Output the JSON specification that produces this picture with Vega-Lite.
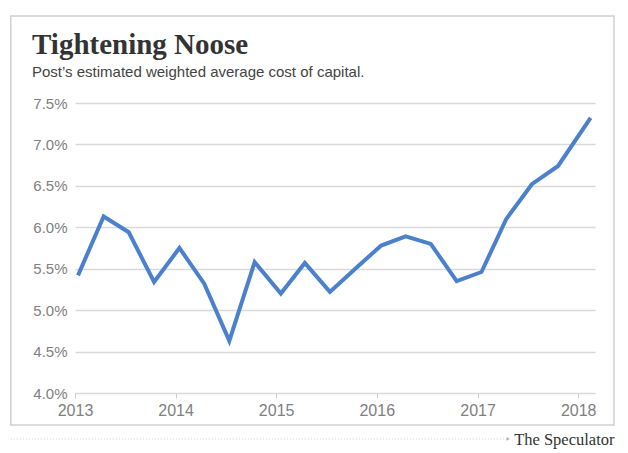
{
  "$schema": "https://vega.github.io/schema/vega-lite/v6.json",
  "width": 520,
  "height": 290,
  "autosize": {"type": "none"},
  "padding": {"left": 75, "top": 103, "right": 33, "bottom": 60},
  "background": "white",
  "title": {
    "text": "Tightening Noose",
    "subtitle": "Post\u2019s estimated weighted average cost of capital.",
    "anchor": "start",
    "frame": "group",
    "dx": -43,
    "offset": -65,
    "font": "Liberation Serif",
    "fontSize": 29,
    "fontWeight": "bold",
    "color": "#333333",
    "subtitleFont": "Liberation Sans",
    "subtitleFontSize": 15,
    "subtitleColor": "#444444",
    "subtitlePadding": 5
  },
  "datasets": {
    "wacc": [
      {"date": "2013-01-12", "wacc": 0.0542},
      {"date": "2013-04-15", "wacc": 0.0613},
      {"date": "2013-07-15", "wacc": 0.0594},
      {"date": "2013-10-15", "wacc": 0.0534},
      {"date": "2014-01-15", "wacc": 0.0575},
      {"date": "2014-04-15", "wacc": 0.0532},
      {"date": "2014-07-15", "wacc": 0.0463},
      {"date": "2014-10-15", "wacc": 0.0558},
      {"date": "2015-01-18", "wacc": 0.0520},
      {"date": "2015-04-15", "wacc": 0.0557},
      {"date": "2015-07-15", "wacc": 0.0522},
      {"date": "2015-10-15", "wacc": 0.0550},
      {"date": "2016-01-17", "wacc": 0.0578},
      {"date": "2016-04-15", "wacc": 0.0589},
      {"date": "2016-07-15", "wacc": 0.0580},
      {"date": "2016-10-17", "wacc": 0.0535},
      {"date": "2017-01-15", "wacc": 0.0546},
      {"date": "2017-04-15", "wacc": 0.0610},
      {"date": "2017-07-17", "wacc": 0.0652},
      {"date": "2017-10-20", "wacc": 0.0674},
      {"date": "2018-02-15", "wacc": 0.0732}
    ]
  },
  "layer": [
    {
      "data": {"name": "wacc"},
      "mark": {"type": "line", "color": "#4a80cc", "strokeWidth": 4, "strokeJoin": "miter", "strokeCap": "butt"},
      "encoding": {
        "x": {
          "field": "date", "type": "temporal",
          "scale": {"domain": [{"year": 2013, "month": 1, "date": 1}, {"year": 2018, "month": 3, "date": 3}]},
          "axis": {
            "tickCount": {"interval": "year", "step": 1},
            "format": "%Y",
            "domain": false,
            "grid": false,
            "ticks": true,
            "tickSize": 5,
            "tickColor": "#cccccc",
            "tickWidth": 1,
            "labelFont": "Liberation Sans",
            "labelFontSize": 16,
            "labelColor": "#808080",
            "labelPadding": 4,
            "labelFlush": false,
            "title": "The Speculator",
            "titleFont": "Liberation Serif",
            "titleFontSize": 16.5,
            "titleFontWeight": "normal",
            "titleColor": "#333333",
            "titleAlign": "right",
            "titleBaseline": "alphabetic",
            "titleX": 539,
            "titleY": 51
          }
        },
        "y": {
          "field": "wacc", "type": "quantitative",
          "scale": {"domain": [0.04, 0.075], "nice": false, "zero": false},
          "axis": {
            "values": [0.04, 0.045, 0.05, 0.055, 0.06, 0.065, 0.07, 0.075],
            "format": ".1%",
            "domain": false,
            "grid": true,
            "gridColor": "#d9d9d9",
            "gridWidth": 1.5,
            "ticks": false,
            "labelFont": "Liberation Sans",
            "labelFontSize": 15,
            "labelColor": "#808080",
            "labelPadding": 8,
            "title": null
          }
        }
      }
    },
    {
      "data": {"values": [{}]},
      "mark": {"type": "rect", "fill": null, "filled": false, "stroke": "#d0d0d0", "strokeWidth": 1.5},
      "encoding": {
        "x": {"datum": {"year": 2012, "month": 5, "date": 13}, "type": "temporal"},
        "x2": {"datum": {"year": 2018, "month": 5, "date": 11}},
        "y": {"datum": 0.0855, "type": "quantitative"},
        "y2": {"datum": 0.03614}
      }
    },
    {
      "data": {"values": [{}]},
      "mark": {"type": "rule", "color": "#d0d0d0", "strokeWidth": 1, "strokeDash": [1, 2]},
      "encoding": {
        "x": {"datum": {"year": 2012, "month": 5, "date": 13}, "type": "temporal"},
        "x2": {"datum": {"year": 2017, "month": 4, "date": 18}},
        "y": {"datum": 0.03445, "type": "quantitative"}
      }
    },
    {
      "data": {"values": [{}]},
      "mark": {"type": "point", "shape": "triangle-right", "filled": true, "color": "#b0b0b0", "size": 14, "opacity": 1},
      "encoding": {
        "x": {"datum": {"year": 2017, "month": 4, "date": 22}, "type": "temporal"},
        "y": {"datum": 0.03445, "type": "quantitative"}
      }
    }
  ],
  "config": {
    "view": {"stroke": null}
  }
}
